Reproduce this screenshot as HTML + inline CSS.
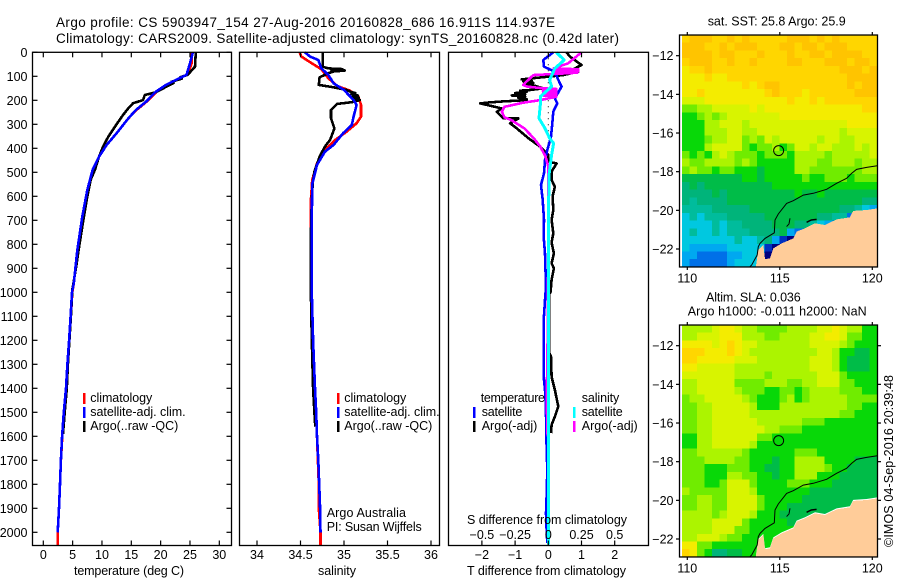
<!DOCTYPE html>
<html>
<head>
<meta charset="utf-8">
<title>Argo profile chart</title>
<style>
html,body{margin:0;padding:0;background:#fff;}
svg{display:block;}
text{font-family:"Liberation Sans",sans-serif;font-size:12.5px;fill:#000;}
.ttl{font-size:13.5px;}
</style>
</head>
<body>
<svg id="chart" xmlns="http://www.w3.org/2000/svg" width="900" height="580" viewBox="0 0 900 580">
<rect x="0" y="0" width="900" height="580" fill="#fff"/>
<text class="ttl" x="56" y="27" textLength="499" lengthAdjust="spacing">Argo profile: CS 5903947_154 27-Aug-2016 20160828_686 16.911S 114.937E</text>
<text class="ttl" x="56" y="43" textLength="563" lengthAdjust="spacing">Climatology: CARS2009. Satellite-adjusted climatology: synTS_20160828.nc (0.42d later)</text>
<g id="plots"></g>
<g>
<rect x="83" y="393" width="2.5" height="11" fill="#f00"/>
<rect x="83" y="407" width="2.5" height="11" fill="#00f"/>
<rect x="83" y="421" width="2.5" height="11" fill="#000"/>
<text x="90.3" y="402" textLength="62" lengthAdjust="spacing">climatology</text>
<text x="90.3" y="416" textLength="95.3" lengthAdjust="spacing">satellite-adj. clim.</text>
<text x="90.3" y="430" textLength="88" lengthAdjust="spacing">Argo(..raw -QC)</text>
</g>
<g>
<rect x="337" y="393" width="2.5" height="11" fill="#f00"/>
<rect x="337" y="407" width="2.5" height="11" fill="#00f"/>
<rect x="337" y="421" width="2.5" height="11" fill="#000"/>
<text x="344.3" y="402" textLength="62" lengthAdjust="spacing">climatology</text>
<text x="344.3" y="416" textLength="95.3" lengthAdjust="spacing">satellite-adj. clim.</text>
<text x="344.3" y="430" textLength="88" lengthAdjust="spacing">Argo(..raw -QC)</text>
<text x="326.7" y="517" textLength="79.3" lengthAdjust="spacing">Argo Australia</text>
<text x="326.7" y="531" textLength="95" lengthAdjust="spacing">PI: Susan Wijffels</text>
</g>
<g>
<rect x="473" y="407" width="2.5" height="11" fill="#00f"/>
<rect x="473" y="421" width="2.5" height="11" fill="#000"/>
<rect x="573" y="407" width="2.5" height="11" fill="#0ff"/>
<rect x="573" y="421" width="2.5" height="11" fill="#f0f"/>
<text x="480.7" y="402" textLength="64.3" lengthAdjust="spacing">temperature</text>
<text x="481.7" y="416" textLength="40.6" lengthAdjust="spacing">satellite</text>
<text x="481.7" y="430" textLength="55.6" lengthAdjust="spacing">Argo(-adj)</text>
<text x="581.7" y="402" textLength="37.6" lengthAdjust="spacing">salinity</text>
<text x="581.7" y="416" textLength="41" lengthAdjust="spacing">satellite</text>
<text x="581.7" y="430" textLength="56" lengthAdjust="spacing">Argo(-adj)</text>
</g>
<text x="74" y="575" textLength="110" lengthAdjust="spacing">temperature (deg C)</text>
<text x="318" y="575" textLength="38" lengthAdjust="spacing">salinity</text>
<text x="467" y="575" textLength="159" lengthAdjust="spacing">T difference from climatology</text>
<text x="467" y="524" textLength="160" lengthAdjust="spacing">S difference from climatology</text>
<text x="707.7" y="25.5" textLength="138" lengthAdjust="spacing">sat. SST: 25.8 Argo: 25.9</text>
<text x="706" y="301.5" textLength="94.7" lengthAdjust="spacing">Altim. SLA: 0.036</text>
<text x="687.7" y="315.5" textLength="179" lengthAdjust="spacing">Argo h1000: -0.011 h2000: NaN</text>
<text transform="translate(893,547) rotate(-90)" textLength="172" lengthAdjust="spacing">©IMOS 04-Sep-2016 20:39:48</text>
</svg>
<script>
// Temperature panel
const tempClimDepths=[0,46,74,94,115,136,164,206,240,275,337,386,435,490,574,685,824,963,1000,1100,1200,1300,1400,1500,1600,1700,1800,1900,2000,2052];
const tempClim=[25.3,25.3,24.9,24.4,22.7,21,19.3,17.6,15.9,14.5,12.5,10.8,9.5,8.4,7.5,6.65,5.8,5.2,4.95,4.7,4.4,4.1,3.87,3.52,3.24,3,2.84,2.67,2.45,2.45];
const tempArgoDepths=[0,60,94,104,110,122,128,150,168,178,199,212,233,261,310,351,393,435,490,532,601,657,726,810,893,990,1100,1200,1300,1400,1500,1590];
const tempArgo=[26,25.85,24.6,23.3,23.6,21.9,22.2,20.45,19,17.3,17,15.3,14.5,13.6,12.2,11.1,10.2,9.5,8.8,8.07,7.5,7.1,6.65,6.1,5.6,4.95,4.7,4.45,4.2,4,3.65,3.35];
const tempSatDepths=[0,46,94,115,136,164,206,240,275,337,386,435,490,574,685,824,963,1000,1100,1200,1300,1400,1500,1600,1700,1800,1900,2000];
const tempSat=[25.5,25,24.4,22.6,20.9,19.2,17.5,15.8,14.5,12.5,10.8,9.5,8.4,7.5,6.65,5.8,5.2,4.9,4.65,4.4,4.1,3.87,3.5,3.2,3,2.84,2.67,2.45];
// Salinity panel
const salClimDepths=[0,18,46,71,108,140,160,185,219,268,296,331,365,407,462,532,615,800,1004,1200,1400,1500,1600,1700,1800,1900,2000,2052];
const salClim=[34.49,34.51,34.63,34.74,34.82,34.92,35.07,35.165,35.195,35.195,35.145,35.03,34.9,34.78,34.69,34.635,34.62,34.62,34.63,34.645,34.665,34.68,34.69,34.7,34.71,34.71,34.73,34.73];
const salArgoDepths=[0,46,60,67,70,72,76,80,87,104,136,146,157,165,170,175,180,185,190,195,199,208,215,240,275,317,365,393,435,497,546,615,754,1004,1200,1400,1500,1560];
const salArgo=[34.755,34.755,34.755,34.82,34.98,34.85,35.01,34.88,34.82,34.72,34.71,34.88,35.03,35.08,35.13,35.08,35.16,35.1,35.17,35.12,35.18,35.09,34.92,34.85,34.85,34.89,34.84,34.78,34.72,34.66,34.64,34.63,34.62,34.62,34.63,34.645,34.66,34.67];
const salSatDepths=[0,18,32,67,94,129,157,199,219,268,303,337,386,414,469,550,700,1004,1200,1400,1500,1600,1700,1800,1900,2000];
const salSat=[34.55,34.61,34.705,34.74,34.82,34.88,35,35.11,35.145,35.11,35.09,34.99,34.88,34.78,34.69,34.635,34.63,34.63,34.645,34.667,34.68,34.69,34.705,34.715,34.725,34.73];
// Difference panel
const dTSatDepths=[0,32,60,81,115,143,192,213,247,296,352,407,449,504,553,615,698,770,838,977,1032,1115,1352,1421,1504,1643,1740,1851,1920,1990,2045];
const dTSat=[0.15,-0.15,-0.13,0.2,0.3,0.4,0.2,0.27,0.15,0.12,0.08,-0.03,-0.1,-0.13,-0.22,-0.17,-0.13,-0.14,-0.1,-0.07,-0.1,-0.14,-0.14,-0.09,-0.07,-0.05,-0.03,-0.05,-0.07,-0.05,-0.03];
const dTArgoDepths=[0,18,53,67,81,95,113,118,122,127,131,136,150,157,160,165,170,175,180,185,190,195,199,205,209,213,224,234,248,262,275,276,296,317,358,393,428,456,463,497,532,560,600,657,698,754,793,838,879,900,948,998,1010,1250,1268,1352,1407,1476,1518,1552,1587];
const dTArgo=[0.55,0.65,1,0.8,0.9,0.45,-0.8,-0.5,-0.75,-0.45,-0.7,-0.5,-0.15,-0.55,-0.85,-0.65,-1,-0.7,-1.1,-0.7,-0.9,-0.65,-0.65,-1.4,-1.8,-2.05,-1.7,-1.4,-1.55,-1.45,-1.35,-0.9,-1.15,-0.95,-0.6,-0.25,0,0,0.25,0.1,0.1,0.2,0.13,0.15,0.1,0.15,0.1,0.17,0.1,0.17,0.1,0.07,0.02,0.02,0.08,0.1,0.2,0.3,0.2,0.1,0.08];
const dSArgoDepths=[0,46,67,71,74,78,81,85,95,136,143,150,153,155,158,160,163,165,168,170,173,175,178,180,183,185,199,210,227,247,271,282,317,358,393,435,477,800,1200,1450,1600];
const dSArgo=[0.25,0.15,0.04,0.226,0.05,0.226,0.05,0.22,-0.113,-0.19,-0.16,-0.04,0.06,-0.04,0.06,-0.04,0.06,-0.04,0.06,-0.04,0.06,-0.04,0.06,-0.04,0.06,0.06,-0.06,-0.19,-0.33,-0.35,-0.33,-0.28,-0.18,-0.11,-0.06,-0.02,0,0,-0.005,-0.012,-0.005];
const dSSatDepths=[0,32,67,115,143,185,220,275,317,358,379,428,504,700,1300,2050];
const dSSat=[0.06,0.12,0.05,0.01,0.025,-0.06,-0.06,-0.07,-0.025,0.01,0.04,0.025,0.007,0,0,0];
// Tick labels
const depthTicks=[0,100,200,300,400,500,600,700,800,900,1000,1100,1200,1300,1400,1500,1600,1700,1800,1900,2000];
const tempTicks=[0,5,10,15,20,25,30];
const salTicks=[34,34.5,35,35.5,36];
const salTickLabels=['34','34.5','35','35.5','36'];
const dTTicks=[-2,-1,0,1,2];
const dTTickLabels=['−2','−1','0','1','2'];
const dSTicks=[-0.5,-0.25,0,0.25,0.5];
const dSTickLabels=['−0.5','−0.25','0','0.25','0.5'];
const lonTicks=[110,115,120];
const latTicks=[-12,-14,-16,-18,-20,-22];
const latTickLabels=['−12','−14','−16','−18','−20','−22'];
const argoLon=114.937;
const argoLat=-16.911;
// Map fields: colour class for each 0.4-degree cell, north to south
const sstGrid=[
[13,14,14,14,13,13,14,13,14,13,13,13,13,13,14,14,14,13,14,13,14,13,13,13,13,13],
[14,14,14,13,13,14,13,14,14,14,13,13,13,14,14,13,14,14,13,14,14,14,13,13,13,13],
[14,14,14,14,13,14,14,13,13,13,14,13,13,13,14,13,13,14,14,13,14,14,14,14,13,13],
[13,14,14,14,13,13,14,13,13,14,13,13,13,13,14,14,13,13,13,14,14,14,13,14,14,13],
[12,13,13,14,13,13,13,13,13,13,13,13,13,13,13,13,13,13,13,13,13,14,14,14,13,14],
[12,12,12,13,12,12,13,13,13,13,13,13,13,13,13,13,13,13,13,13,13,13,14,14,14,14],
[12,12,12,12,12,12,12,12,13,12,13,14,14,13,13,13,13,13,13,13,13,13,14,13,14,14],
[12,12,13,12,12,12,12,12,12,12,12,13,14,13,13,13,12,13,13,13,13,13,13,14,14,14],
[11,11,11,12,12,12,12,12,12,12,12,12,12,12,13,12,12,13,12,13,13,13,13,13,13,13],
[9,9,10,10,11,11,11,11,11,12,11,12,12,12,12,12,12,12,12,12,12,12,12,12,13,13],
[8,8,9,10,9,10,11,11,11,11,11,11,11,12,12,12,12,12,12,12,12,12,12,12,12,12],
[8,8,8,10,10,11,11,11,10,11,11,11,11,11,11,11,11,11,11,11,11,11,12,12,12,12],
[8,8,8,10,10,10,11,11,10,10,11,11,11,11,11,11,11,11,11,11,11,10,11,11,11,11],
[8,8,8,9,10,10,11,11,9,10,9,11,10,11,11,11,11,11,10,11,11,10,10,11,11,11],
[8,8,8,10,11,11,11,11,9,8,9,9,10,8,9,11,11,10,11,11,10,10,10,11,10,11],
[9,8,9,8,10,11,10,9,9,9,8,9,9,9,8,10,10,10,10,9,10,10,10,10,10,11],
[10,9,9,10,10,10,10,9,10,9,8,8,8,8,8,10,10,10,9,9,10,10,10,9,10,10],
[9,10,9,9,8,9,9,8,8,8,7,8,8,8,8,10,10,9,9,9,9,9,9,9,10,10],
[7,7,7,7,7,7,7,7,8,8,7,8,8,8,8,8,9,8,8,9,9,9,8,9,9,9],
[6,7,6,7,7,7,7,7,7,7,7,7,8,8,8,8,8,8,8,8,8,8,8,8,8,8],
[6,6,6,6,7,6,7,7,7,7,7,7,7,7,7,8,7,7,8,7,7,7,7,7,7,7],
[6,5,6,6,6,6,7,7,7,7,7,7,7,7,7,7,7,7,7,7,7,7,7,7,6,6],
[5,5,5,5,6,6,6,6,6,7,7,7,7,7,7,7,7,7,7,7,7,6,6,5,4,3],
[4,5,4,5,5,5,6,6,6,6,6,7,7,7,7,7,7,7,6,6,5,5,2,2,2,3],
[4,4,4,4,5,4,5,5,6,6,6,6,7,7,7,6,6,5,4,3,2,2,2,2,2,2],
[4,5,4,4,5,4,5,5,5,6,6,6,6,7,3,2,2,2,2,2,2,2,2,2,2,2],
[4,4,4,4,4,4,4,5,4,4,5,6,3,1,0,1,2,2,2,2,2,2,2,2,2,2],
[4,3,3,3,3,3,4,4,4,4,4,1,0,0,2,2,2,2,2,2,2,2,2,2,2,2],
[3,3,2,2,2,2,3,3,4,4,4,0,0,2,2,2,2,2,2,2,2,2,2,2,2,2],
[3,2,2,2,2,2,3,4,4,4,4,0,2,2,2,2,2,2,2,2,2,2,2,2,2,2]
];
const slaGrid=[
[10,10,10,10,11,12,12,11,10,10,9,9,9,9,10,10,10,10,11,11,12,11,10,10,8,8],
[10,10,11,11,11,12,12,12,10,10,10,9,9,10,10,10,10,11,11,12,12,11,9,9,8,8],
[12,12,12,12,11,12,13,12,11,11,10,10,10,10,10,10,10,11,11,11,11,10,9,8,8,8],
[13,13,13,12,12,12,13,12,11,10,10,10,10,10,10,10,10,10,11,11,10,8,8,7,7,8],
[13,13,12,12,12,12,12,11,11,11,10,10,10,10,10,10,10,11,11,11,10,8,7,7,7,8],
[12,12,11,11,11,11,11,10,10,10,10,10,10,10,10,10,10,11,11,11,10,8,7,7,7,8],
[11,11,11,11,11,11,11,10,10,10,10,9,10,10,10,10,10,10,11,11,11,9,8,8,8,8],
[10,10,11,11,11,11,11,9,9,9,9,10,10,10,9,9,10,10,11,11,11,9,9,8,8,8],
[10,10,11,11,11,11,11,10,9,9,9,8,8,9,9,8,9,10,10,10,10,9,9,9,8,8],
[9,10,10,11,11,11,11,11,10,9,8,8,8,9,10,8,9,10,10,10,10,10,9,9,9,9],
[9,9,10,10,11,11,11,11,11,10,8,8,8,10,10,10,10,10,10,10,10,10,9,9,8,8],
[9,9,10,10,11,11,11,11,11,10,10,10,10,10,10,10,10,10,10,10,10,9,9,8,8,8],
[9,9,10,10,11,11,11,11,11,11,10,10,10,10,10,10,9,9,9,8,8,8,8,8,8,8],
[9,9,10,10,11,11,11,11,11,11,11,10,10,9,9,9,8,8,8,8,8,8,8,8,8,8],
[8,8,10,10,11,11,11,11,11,11,9,9,8,8,8,8,8,8,8,8,8,8,8,8,8,8],
[8,8,10,10,11,11,11,11,11,10,8,8,8,8,8,8,8,8,8,8,8,8,8,8,8,8],
[9,9,10,10,10,10,10,10,9,8,8,8,8,8,8,9,9,9,8,8,8,8,8,8,8,8],
[9,9,9,10,10,10,10,9,9,8,8,8,7,8,8,10,10,10,10,8,8,8,8,7,7,7],
[9,9,9,8,8,8,9,9,9,8,8,7,7,8,8,10,10,10,10,9,8,8,7,7,7,7],
[9,9,9,8,8,8,10,10,9,9,8,8,7,8,8,10,10,10,8,8,8,7,7,7,7,7],
[9,9,9,8,8,9,11,11,11,9,8,8,8,8,9,9,9,8,8,8,7,7,7,7,7,7],
[10,9,9,9,9,9,11,11,11,10,8,8,8,8,8,8,8,7,7,7,7,7,7,7,7,7],
[9,9,10,10,9,9,11,11,11,11,9,8,8,8,8,8,7,7,7,7,7,7,7,7,7,7],
[9,9,10,10,9,9,11,11,11,11,9,8,8,8,7,7,7,7,7,7,7,7,7,7,7,7],
[10,10,10,10,9,10,11,11,11,10,8,8,8,7,7,7,7,7,7,7,7,7,7,7,7,7],
[10,10,10,10,11,11,11,11,9,8,8,8,8,8,7,7,7,7,7,7,7,7,7,7,7,7],
[10,10,10,10,11,11,11,9,9,8,8,8,8,8,8,7,7,7,7,7,7,7,7,7,7,7],
[10,10,11,11,11,10,9,9,8,8,8,8,8,8,8,8,8,7,7,7,7,7,7,7,7,7],
[12,12,9,9,8,8,8,8,8,8,8,8,8,8,8,8,8,8,8,8,8,8,8,8,8,8],
[13,12,9,8,6,6,7,7,8,8,8,8,8,8,8,8,8,8,8,8,8,8,8,8,8,8]
];
// Geography in degrees
const coastLon=[120.27,119.69,118.97,118.79,118.07,117.44,116.9,116.36,115.91,115.73,115.1,114.65,114.47,114.2,114.11,113.84,113.71,120.27];
const coastLat=[-19.9,-19.98,-20.03,-20.36,-20.47,-20.76,-20.67,-20.93,-21.1,-21.45,-21.71,-21.97,-22.48,-22.53,-21.79,-22.05,-22.91,-22.91];
const isobathLon=[120.27,119.69,119.15,118.88,118.61,118.07,117.53,116.81,116.27,115.73,115.37,114.92,114.74,114.7,114.2,113.93,113.84,113.78,113.48,113.39];
const isobathLat=[-17.69,-17.78,-17.88,-18.09,-18.34,-18.6,-18.91,-19.12,-19.21,-19.5,-19.64,-20.19,-20.5,-21.16,-21.45,-21.71,-21.88,-22.31,-22.83,-22.91];
const islandLon=[116.45,116.7,116.99];
const islandLat=[-20.62,-20.5,-20.47];
const islandTwoLon=[115.37,115.5,115.55];
const islandTwoLat=[-20.84,-20.7,-20.41];

const NS='http://www.w3.org/2000/svg';
const palette=['#00007f','#0030c0','#0070e8','#00a8f0','#00c8e0','#00bc9c','#00b47a','#00bc48','#08d808','#70ec00','#acf400','#d8f400','#f4ec00','#ffd600','#ffc400'];
const plots=document.getElementById('plots');
function mk(tag,attrs,parent){
  const el=document.createElementNS(NS,tag);
  for(const k in attrs){el.setAttribute(k,attrs[k]);}
  (parent||plots).appendChild(el);
  return el;
}
const depthY=d=>52.3+0.24*d;
const tempX=t=>43.3+5.867*t;
const salX=s=>257+87*(s-34);
const dTX=v=>548.3+33.2*v;
const dSX=v=>548.3+132.8*v;
const lonX=l=>687.3+18.5*(l-110);
const latY1=l=>55.7+19.33*(-12-l);
const latY2=l=>345.7+19.33*(-12-l);

function profile(name,depths,vals,xf,color,w,parent){
  const pts=depths.map((d,i)=>xf(vals[i]).toFixed(1)+','+depthY(d).toFixed(1)).join(' ');
  const line=mk('polyline',{points:pts,fill:'none',stroke:color,'stroke-width':w,'shape-rendering':'crispEdges','stroke-linejoin':'round'},parent);
  
  
}
function frame(name,x0,y0,x1,y1){
  const r=mk('rect',{x:x0,y:y0,width:x1-x0,height:y1-y0,fill:'none',stroke:'#000','stroke-width':1.3});
  
  
}
function tick(x1,y1,x2,y2){
  const t=mk('line',{x1:x1,y1:y1,x2:x2,y2:y2,stroke:'#000','stroke-width':1.2});
  
  
}
function label(str,x,y,anchor){
  const t=mk('text',{x:x,y:y,'text-anchor':anchor});
  t.textContent=str;
  
  
}
function xTicks(vals,labels,xf,y0,y1){
  vals.forEach((v,i)=>{
    tick(xf(v),y0,xf(v),y0+5);
    tick(xf(v),y1,xf(v),y1-5);
    label(labels[i],xf(v),559,'middle');
  });
}

// Panels
profile('temperature-climatology-line',tempClimDepths,tempClim,tempX,'#f00',2.6);
profile('temperature-argo-line',tempArgoDepths,tempArgo,tempX,'#000',2.6);
profile('temperature-satellite-line',tempSatDepths,tempSat,tempX,'#00f',2.6);
frame('temperature-panel-frame',32.5,52.3,231.5,545.5);
xTicks(tempTicks,tempTicks.map(String),tempX,52.3,545.5);
depthTicks.forEach(d=>{
  tick(32.5,depthY(d),37.5,depthY(d));
  tick(231.5,depthY(d),226.5,depthY(d));
  label(String(d),27.5,depthY(d)+4.5,'end');
});

profile('salinity-climatology-line',salClimDepths,salClim,salX,'#f00',2.6);
profile('salinity-argo-line',salArgoDepths,salArgo,salX,'#000',2.6);
profile('salinity-satellite-line',salSatDepths,salSat,salX,'#00f',2.6);
frame('salinity-panel-frame',239.5,52.3,439.5,545.5);
xTicks(salTicks,salTickLabels,salX,52.3,545.5);

const zero=mk('line',{x1:dTX(0),y1:52.3,x2:dTX(0),y2:545,stroke:'#000','stroke-width':1,'stroke-dasharray':'1 5'});


profile('t-difference-argo-line',dTArgoDepths,dTArgo,dTX,'#000',2.6);
profile('t-difference-satellite-line',dTSatDepths,dTSat,dTX,'#00f',2.6);
profile('s-difference-argo-line',dSArgoDepths,dSArgo,dSX,'#f0f',2.6);
profile('s-difference-satellite-line',dSSatDepths,dSSat,dSX,'#0ff',3);
frame('difference-panel-frame',448.5,52.3,648.5,545.5);
xTicks(dTTicks,dTTickLabels,dTX,52.3,545.5);
dSTicks.forEach((v,i)=>label(dSTickLabels[i],dSX(v),539,'middle'));

// Maps
function drawMap(prefix,grid,latY,halo,rightTicks){
  const g=mk('g',{});
  
  
  const lon0=109.71,dLon=0.406,lat0=-10.93,dLat=0.4;
  grid.forEach((row,r)=>{
    row.forEach((val,c)=>{
      const x=lonX(lon0+c*dLon),y=latY(lat0-r*dLat);
      const cell=mk('rect',{x:x.toFixed(1),y:y.toFixed(1),width:(18.5*dLon+0.6).toFixed(1),height:(19.33*dLat+0.6).toFixed(1),fill:palette[val],'shape-rendering':'crispEdges'},g);
      
      
    });
  });
  const pts=(lons,lats)=>lons.map((l,i)=>lonX(l).toFixed(1)+','+latY(lats[i]).toFixed(1)).join(' ');
  if(halo){
    const h=mk('polygon',{points:pts(coastLon,coastLat),fill:'#fff',transform:'translate(0,-1)'},g);
    
    
  }
  const land=mk('polygon',{points:pts(coastLon,coastLat),fill:'#ffcc99','shape-rendering':'crispEdges'},g);
  
  
  const iso=mk('polyline',{points:pts(isobathLon,isobathLat),fill:'none',stroke:'#000','stroke-width':1},g);
  
  
  const isl=mk('polyline',{points:pts(islandLon,islandLat),fill:'none',stroke:'#000','stroke-width':1.5},g);
  
  
  const isl2=mk('polyline',{points:pts(islandTwoLon,islandTwoLat),fill:'none',stroke:'#000','stroke-width':1},g);
  
  
  const m=mk('circle',{cx:lonX(argoLon),cy:latY(argoLat),r:5,fill:'none',stroke:'#000','stroke-width':1},g);
  
  
  const top=latY(-10.93),bot=latY(-22.93);
  frame(prefix+'-map-frame',679.5,top,877.5,bot);
  lonTicks.forEach(l=>{
    tick(lonX(l),top,lonX(l),top-3);
    tick(lonX(l),bot,lonX(l),bot+3);
    label(String(l),lonX(l),bot+15.5,'middle');
  });
  latTicks.forEach((l,i)=>{
    tick(679.5,latY(l),676,latY(l));
    if(rightTicks){tick(877.5,latY(l),881,latY(l));}
    label(latTickLabels[i],673.5,latY(l)+4.5,'end');
  });
}
drawMap('sst',sstGrid,latY1,false,false);
drawMap('sla',slaGrid,latY2,true,true);
</script>
</body>
</html>
